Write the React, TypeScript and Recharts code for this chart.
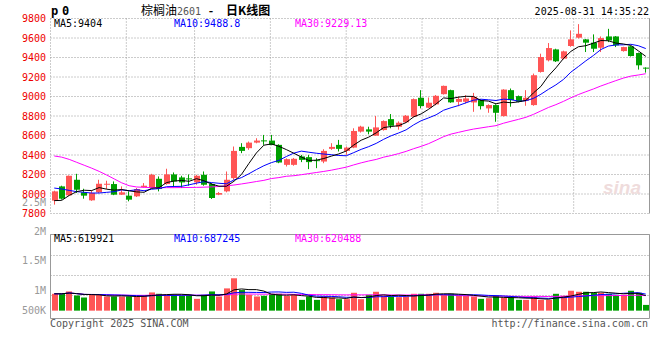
import React from 'react';
import { ComposedChart, Bar, Line, XAxis, YAxis, CartesianGrid, ReferenceLine, ReferenceArea } from 'recharts';

// ---------- data ----------
const DATE_TICK_INDEX = [0, 10, 19, 29, 39, 49, 59, 69, 79];
const DATE_TICK_LABELS = ['05-12', '05-26', '06-09', '06-23', '07-07', '07-21', '08-04', '08-18', '09-01'];
const PRICE_TICKS = [7800, 8000, 8200, 8400, 8600, 8800, 9000, 9200, 9400, 9600, 9800];

const OPEN = [7932, 8078, 7986, 8146, 8017, 7935, 8017, 8095, 8102, 7993,
  7983, 7976, 8071, 8061, 8156, 8102, 8201, 8170, 8160, 8119,
  8197, 8102, 7993, 8027, 8163, 8483, 8470, 8527, 8550, 8548,
  8504, 8299, 8299, 8385, 8378, 8347, 8333, 8463, 8504, 8442,
  8476, 8640, 8663, 8598, 8656, 8768, 8690, 8735, 8793, 8987,
  8885, 8919, 9024, 9065, 8945, 8946, 8939, 8963, 8878, 8912,
  8799, 9065, 9004, 8956, 8912, 9252, 9371, 9483, 9388, 9518,
  9603, 9586, 9552, 9500, 9616, 9616, 9466, 9514, 9446, 9296];
const CLOSE = [8027, 7952, 8187, 8044, 7983, 8010, 8105, 8105, 7993, 8017,
  7942, 8051, 8085, 8197, 8051, 8201, 8129, 8119, 8150, 8187,
  8095, 7959, 8010, 8146, 8442, 8442, 8527, 8548, 8545, 8504,
  8323, 8357, 8361, 8350, 8327, 8340, 8442, 8483, 8463, 8476,
  8646, 8691, 8640, 8683, 8748, 8700, 8731, 8803, 8973, 8902,
  8936, 9007, 9109, 8940, 8975, 8980, 8997, 8901, 8912, 8833,
  9071, 8963, 8946, 8987, 9218, 9405, 9497, 9361, 9463, 9586,
  9643, 9552, 9490, 9599, 9575, 9524, 9507, 9415, 9320, 9293];
const HIGH = [8034, 8085, 8190, 8207, 8054, 8037, 8146, 8136, 8129, 8078,
  8027, 8061, 8112, 8207, 8180, 8259, 8221, 8187, 8200, 8197,
  8231, 8112, 8020, 8231, 8487, 8521, 8538, 8572, 8606, 8606,
  8510, 8365, 8370, 8401, 8401, 8367, 8459, 8521, 8555, 8487,
  8674, 8700, 8690, 8800, 8755, 8820, 8745, 8810, 8980, 9065,
  8990, 9015, 9112, 9070, 9000, 9014, 9037, 8970, 8920, 8920,
  9075, 9082, 9010, 9065, 9235, 9439, 9548, 9490, 9470, 9678,
  9742, 9590, 9637, 9616, 9694, 9620, 9510, 9520, 9450, 9299];
const LOW = [7891, 7942, 7980, 8010, 7952, 7930, 8010, 8051, 7988, 7990,
  7925, 7969, 8068, 8058, 8027, 8095, 8071, 8061, 8085, 8095,
  8085, 7949, 7988, 8017, 8146, 8419, 8453, 8520, 8504, 8500,
  8316, 8282, 8290, 8327, 8255, 8265, 8316, 8453, 8436, 8402,
  8470, 8630, 8612, 8598, 8650, 8674, 8660, 8730, 8785, 8878,
  8880, 8910, 9020, 8935, 8900, 8929, 8843, 8867, 8833, 8741,
  8795, 8895, 8940, 8905, 8905, 9245, 9360, 9354, 9380, 9510,
  9595, 9456, 9456, 9456, 9558, 9507, 9460, 9410, 9276, 9245];

const MA5_HEAD = [7932, 7935, 7985, 8025];
const MA10_HEAD = [8061, 8051, 8037, 8024, 8017, 8010, 8010, 8017, 8024];
const MA30_HEAD = [8390, 8378, 8355, 8325, 8295, 8265, 8232, 8195, 8155, 8115,
  8085, 8072, 8068, 8066, 8065, 8065, 8065, 8066, 8067, 8068,
  8070, 8073, 8077, 8083, 8092, 8103, 8115, 8128, 8140];

const VOLUME = [708000, 708000, 807000, 637000, 552000, 666000, 666000, 595000, 595000, 595000,
  595000, 595000, 637000, 765000, 708000, 666000, 666000, 637000, 666000, 496000,
  666000, 807000, 595000, 935000, 1360000, 864000, 666000, 595000, 623000, 708000,
  708000, 623000, 666000, 453000, 595000, 453000, 595000, 552000, 482000, 482000,
  751000, 482000, 666000, 793000, 623000, 595000, 567000, 595000, 708000, 708000,
  708000, 751000, 666000, 708000, 623000, 623000, 595000, 496000, 524000, 623000,
  552000, 552000, 453000, 453000, 595000, 453000, 453000, 708000, 623000, 836000,
  793000, 793000, 751000, 751000, 708000, 666000, 666000, 836000, 751000, 241000];
const VOL_TICKS = [2500000, 2000000, 1500000, 1000000, 500000];
const VOL_TICK_LABELS = ['2.5M', '2M', '1.5M', '1M', '500K'];

const MAIN_MA_LABELS = ['MA5:9404', 'MA10:9488.8', 'MA30:9229.13'];
const VOL_MA_LABELS = ['MA5:619921', 'MA10:687245', 'MA30:620488'];

// ---------- styles / layout ----------
const W = 660;
const H = 360;
const LEFT = 50.5;
const RIGHT_M = 10.5;
const MAIN_TOP = 18.5;
const MAIN_BOT = 213.5;
const VOL_TOP = 234.5;
const VOL_BOT = 318.5;
const VOL_DOMAIN: [number, number] = [-330000, 3200000];
const VOL_LABEL_Y = [202, 231, 260, 290, 310.5];
const VOL_GRID_Y = [255.5, 275.5, 295.5];
const RED = '#ff5555';
const GREEN = '#00a000';
const GRID = '#999999';
const MONO = '"DejaVu Sans Mono", monospace';

const sma = (arr: number[], n: number, i: number) => {
  const s = Math.max(0, i - n + 1);
  let t = 0;
  for (let k = s; k <= i; k++) t += arr[k];
  return t / (i - s + 1);
};

const rows = OPEN.map((o, i) => ({
  x: i + 0.5,
  open: o,
  close: CLOSE[i],
  high: HIGH[i],
  low: LOW[i],
  range: [LOW[i], HIGH[i]],
  up: CLOSE[i] >= o,
  ma5: i < MA5_HEAD.length ? MA5_HEAD[i] : sma(CLOSE, 5, i),
  ma10: i < MA10_HEAD.length ? MA10_HEAD[i] : sma(CLOSE, 10, i),
  ma30: i < MA30_HEAD.length ? MA30_HEAD[i] : sma(CLOSE, 30, i),
  vol: VOLUME[i],
  vma5: sma(VOLUME, 5, i),
  vma10: sma(VOLUME, 10, i),
  vma30: sma(VOLUME, 30, i),
}));
const SLOTS = rows.length;

const Candle = (props: any) => {
  const { x, y, width, height, payload } = props;
  if (x == null || y == null) return null;
  const { open, close, high, low, up } = payload;
  const color = up ? RED : GREEN;
  const ppu = height / (high - low);
  const bx = Math.round(x + width / 2 - 3);
  const cx = bx + 2.5;
  const top = y + (high - Math.max(open, close)) * ppu;
  const bot = y + (high - Math.min(open, close)) * ppu;
  return (
    <g>
      <line x1={cx} x2={cx} y1={y} y2={y + height} stroke={color} strokeWidth={1} />
      <rect x={bx} y={top} width={6} height={Math.max(1, bot - top)} fill={color} />
    </g>
  );
};

const VolBar = (props: any) => {
  const { x, y, width, height, payload } = props;
  if (x == null || y == null) return null;
  const bx = Math.round(x + width / 2 - 3);
  return <rect x={bx} y={y} width={6} height={Math.max(0, height)} fill={payload.up ? RED : GREEN} />;
};

const DateTick = (p: any) => {
  const idx = DATE_TICK_INDEX.indexOf(p.payload.value);
  const last = idx === DATE_TICK_INDEX.length - 1;
  return (
    <text x={p.x} y={MAIN_BOT + 11.5} textAnchor={last ? 'end' : 'middle'} fill="#0a7fd0" fontSize={10} fontFamily={MONO}>
      {DATE_TICK_LABELS[idx]}
    </text>
  );
};

const VolTick = (p: any) => {
  const idx = VOL_TICKS.indexOf(p.payload.value);
  return (
    <text x={46} y={VOL_LABEL_Y[idx]} dy="0.35em" textAnchor="end" fill="#999999" fontSize={10} fontFamily={MONO}>
      {VOL_TICK_LABELS[idx]}
    </text>
  );
};

const dateAxisEnd = DATE_TICK_INDEX[DATE_TICK_INDEX.length - 1];

const MainChart = () => (
  <ComposedChart width={W} height={H} data={rows} margin={{ top: MAIN_TOP, right: RIGHT_M, bottom: H - MAIN_BOT, left: 0 }}>
    <CartesianGrid stroke={GRID} strokeDasharray="1 2" />
    <XAxis type="number" domain={[0, dateAxisEnd]} allowDataOverflow ticks={DATE_TICK_INDEX} interval={0} height={0}
      axisLine={false} tickLine={false} tick={<DateTick />} />
    <XAxis xAxisId="data" type="number" dataKey="x" domain={[0, SLOTS]} allowDataOverflow hide height={0} />
    <YAxis domain={[7800, 9800]} ticks={PRICE_TICKS} interval={0} width={LEFT} axisLine={false} tickLine={false}
      tickSize={0} tickMargin={4.5} tick={{ fill: '#ee0000', fontSize: 10, fontFamily: MONO }} />
    <ReferenceLine x={dateAxisEnd} stroke={GRID} strokeWidth={1} />
    <Bar xAxisId="data" dataKey="range" barSize={6} shape={<Candle />} isAnimationActive={false} />
    <Line xAxisId="data" dataKey="ma30" stroke="#ff00ff" strokeWidth={1} dot={false} isAnimationActive={false} />
    <Line xAxisId="data" dataKey="ma10" stroke="#0000ff" strokeWidth={1} dot={false} isAnimationActive={false} />
    <Line xAxisId="data" dataKey="ma5" stroke="#000000" strokeWidth={1} dot={false} isAnimationActive={false} />
  </ComposedChart>
);

const VolumeChart = () => (
  <ComposedChart width={W} height={H} data={rows} margin={{ top: VOL_TOP, right: RIGHT_M, bottom: H - VOL_BOT, left: 0 }}>
    <CartesianGrid stroke={GRID} strokeDasharray="1 2" horizontalPoints={VOL_GRID_Y} />
    <XAxis type="number" domain={[0, dateAxisEnd]} allowDataOverflow ticks={DATE_TICK_INDEX} interval={0} height={0}
      axisLine={false} tickLine={false} tick={false} />
    <XAxis xAxisId="data" type="number" dataKey="x" domain={[0, SLOTS]} allowDataOverflow hide height={0} />
    <YAxis domain={VOL_DOMAIN} ticks={VOL_TICKS} interval={0} width={LEFT} axisLine={false} tickLine={false}
      allowDataOverflow tick={<VolTick />} />
    <ReferenceArea x1={0} x2={dateAxisEnd} y1={VOL_DOMAIN[0]} y2={VOL_DOMAIN[1]} fill="none" stroke={GRID} strokeOpacity={1} fillOpacity={0} />
    <Bar xAxisId="data" dataKey="vol" barSize={6} shape={<VolBar />} isAnimationActive={false} />
    <Line xAxisId="data" dataKey="vma30" stroke="#ff00ff" strokeWidth={1} dot={false} isAnimationActive={false} />
    <Line xAxisId="data" dataKey="vma10" stroke="#0000ff" strokeWidth={1} dot={false} isAnimationActive={false} />
    <Line xAxisId="data" dataKey="vma5" stroke="#000000" strokeWidth={1} dot={false} isAnimationActive={false} />
  </ComposedChart>
);

const Overlay = () => (
  <svg width={W} height={H} style={{ position: 'absolute', left: 0, top: 0, pointerEvents: 'none' }}>
    <text x={51} y={15} fontSize={12} fontWeight="bold" fontFamily={MONO} fill="#000">p<tspan x={62}>0</tspan></text>
    <text x={141} y={15} fontSize={12} fontFamily='"Noto Sans CJK SC", sans-serif' fill="#000">
      棕榈油<tspan fill="#555" fontSize={10} fontFamily={MONO}>2601</tspan>
      <tspan x={206} fontWeight="bold"> - </tspan><tspan x={226} fontWeight="bold">日K线图</tspan>
    </text>
    <text x={649} y={15} textAnchor="end" fontSize={10} fontFamily={MONO} fill="#000">2025-08-31 14:35:22</text>
    <text x={54} y={27} fontSize={10} fontFamily={MONO} fill="#000">{MAIN_MA_LABELS[0]}</text>
    <text x={174} y={27} fontSize={10} fontFamily={MONO} fill="#0000ff">{MAIN_MA_LABELS[1]}</text>
    <text x={295} y={27} fontSize={10} fontFamily={MONO} fill="#ff00ff">{MAIN_MA_LABELS[2]}</text>
    <text x={54} y={242} fontSize={10} fontFamily={MONO} fill="#000">{VOL_MA_LABELS[0]}</text>
    <text x={174} y={242} fontSize={10} fontFamily={MONO} fill="#0000ff">{VOL_MA_LABELS[1]}</text>
    <text x={295} y={242} fontSize={10} fontFamily={MONO} fill="#ff00ff">{VOL_MA_LABELS[2]}</text>
    <text x={50} y={327} fontSize={10} fontFamily={MONO} fill="#555">Copyright 2025 SINA.COM</text>
    <text x={648} y={327} textAnchor="end" fontSize={10} fontFamily={MONO} fill="#555">http://finance.sina.com.cn</text>
    <text x={622} y={194} textAnchor="middle" fontSize={19} fontStyle="italic" fontWeight="bold" fontFamily="Arial, sans-serif" fill="#efdcdc">sina</text>
  </svg>
);

export default function App() {
  return (
    <div style={{ position: 'absolute', left: 0, top: 0, width: W, height: H, background: '#fff' }}>
      <div style={{ position: 'absolute', left: 0, top: 0 }}><MainChart /></div>
      <div style={{ position: 'absolute', left: 0, top: 0 }}><VolumeChart /></div>
      <Overlay />
    </div>
  );
}
